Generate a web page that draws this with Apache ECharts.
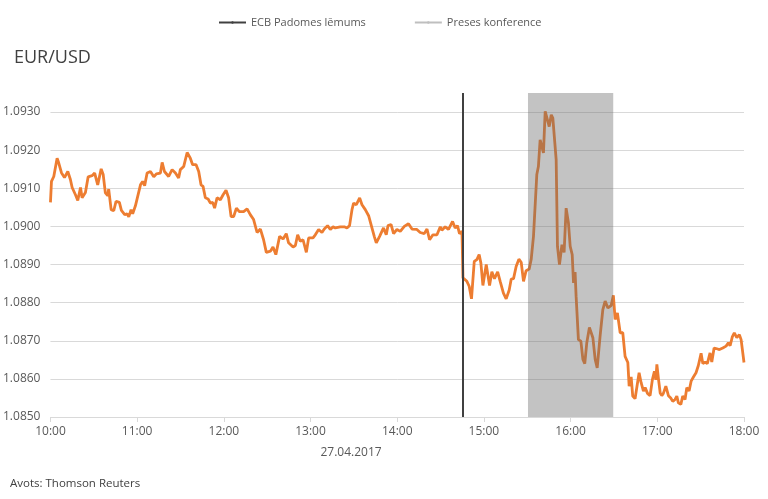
<!DOCTYPE html>
<html>
<head>
<meta charset="utf-8">
<script src="https://cdn.jsdelivr.net/npm/echarts@6/dist/echarts.min.js"></script>
<style>
  html, body { margin: 0; padding: 0; background: #fff; }
  #chart { width: 768px; height: 499px; }
</style>
</head>
<body>
<div id="chart"></div>
<script>
// minutes after 10:00, 27.04.2017
var minutes = [
  0, 0.7, 2.3, 4.6, 5.7, 7.6, 9.7, 12.0, 13.8, 15.0, 17.3, 18.9, 20.8, 21.9, 24.2, 26.1, 28.8, 30.6, 32.7, 35.1,
  36.5, 38.0, 39.6, 40.3, 42.0, 43.8, 45.4, 47.7, 49.1, 51.4, 53.1, 54.2, 55.8, 56.9, 58.8, 60.0, 62.3, 63.8, 65.2, 66.9,
  69.2, 71.5, 73.3, 76.1, 77.3, 78.9, 81.8, 84.2, 86.5, 88.7, 89.9, 92.2, 94.6, 96.8, 98.4, 100.8, 102.6, 104.2, 105.6, 107.2,
  109.1, 110.7, 112.3, 113.6, 115.3, 117.6, 119.5, 121.5, 123.3, 125.0, 126.8, 128.7, 130.7, 133.7, 136.1, 138.3, 140.6, 143.0, 145.3, 147.5,
  149.4, 152.2, 154.0, 156.0, 158.6, 161.0, 163.2, 164.8, 167.9, 169.5, 171.1, 172.9, 174.8, 177.1, 178.7, 181.7, 183.3, 185.6, 187.9, 189.5,
  191.8, 193.7, 195.6, 197.1, 200.6, 203.4, 205.2, 207.0, 208.7, 209.8, 211.7, 214.0, 215.6, 217.9, 220.2, 222.5, 224.1, 225.5, 227.8, 230.5,
  232.4, 233.6, 235.7, 237.5, 239.8, 242.1, 244.9, 247.8, 250.2, 253.6, 255.9, 258.7, 260.6, 262.4, 264.7, 267.5, 269.8, 270.9, 273.2, 275.5,
  278.3, 280.1, 281.7, 283.1, 284.8, 285.5, 288.2, 289.8, 291.4, 293.3, 295.1, 296.7, 297.9, 299.3, 301.6, 303.9, 305.5, 307.3, 309.5, 311.3,
  313.5, 315.4, 317.5, 318.9, 320.5, 322.3, 324.2, 325.8, 327.4, 329.2, 331.3, 332.7, 334.3, 335.5, 336.6, 337.7, 338.9, 340.1, 341.2, 342.4,
  343.6, 345.2, 346.6, 347.7, 350.0, 350.9, 352.3, 354.0, 355.5, 356.9, 358.5, 359.7, 361.1, 362.0, 363.1, 363.8, 365.4, 367.1, 368.5, 369.8,
  371.2, 373.0, 375.4, 377.0, 378.4, 380.4, 382.3, 383.9, 385.8, 388.0, 389.6, 390.8, 392.4, 394.3, 396.1, 397.7, 399.6, 400.5, 401.9, 403.0,
  404.6, 405.8, 407.4, 408.8, 410.4, 411.6, 413.2, 415.0, 416.6, 418.0, 419.0, 419.7, 420.8, 422.0, 423.1, 424.2, 425.9, 427.7, 429.3, 430.7,
  432.3, 433.5, 434.6, 436.3, 437.6, 439.2, 440.4, 442.0, 443.4, 445.0, 446.8, 448.4, 450.3, 451.5, 453.1, 454.6, 456.5, 457.7, 459.3, 461.2,
  463.0, 465.3, 467.6, 469.2, 470.4, 471.9, 473.3, 475.0, 476.8, 478.0, 480
];
var eurusd = [
  1.09063, 1.09118, 1.09131, 1.09179, 1.09167, 1.09141, 1.09128, 1.09144, 1.09123, 1.09102, 1.09083, 1.09068, 1.09102, 1.09075, 1.09089, 1.09130, 1.09133, 1.09140, 1.09109, 1.09151,
  1.09136, 1.09088, 1.09081, 1.09098, 1.09044, 1.09041, 1.09066, 1.09063, 1.09042, 1.09031, 1.09033, 1.09025, 1.09044, 1.09033, 1.09054, 1.09053, 1.09109, 1.09118, 1.09107, 1.09140,
  1.09144, 1.09130, 1.09138, 1.09140, 1.09168, 1.09144, 1.09131, 1.09149, 1.09140, 1.09127, 1.09149, 1.09157, 1.09194, 1.09179, 1.09162, 1.09162, 1.09144, 1.09109, 1.09105, 1.09075,
  1.09072, 1.09061, 1.09063, 1.09048, 1.09075, 1.09070, 1.09083, 1.09095, 1.09075, 1.09026, 1.09026, 1.09048, 1.09039, 1.09039, 1.09046, 1.09031, 1.09018, 1.08984, 1.08993, 1.08965,
  1.08932, 1.08935, 1.08946, 1.08926, 1.08974, 1.08967, 1.08981, 1.08957, 1.08946, 1.08950, 1.08978, 1.08961, 1.08965, 1.08932, 1.08970, 1.08970, 1.08978, 1.08992, 1.08984, 1.08993,
  1.09002, 1.08992, 1.08999, 1.08996, 1.08999, 1.08999, 1.08996, 1.09002, 1.09044, 1.09061, 1.09057, 1.09075, 1.09057, 1.09044, 1.09028, 1.08996, 1.08974, 1.08957, 1.08974, 1.08996,
  1.08978, 1.09002, 1.09005, 1.08981, 1.08992, 1.08987, 1.09000, 1.09007, 1.08993, 1.08992, 1.08984, 1.08981, 1.08993, 1.08965, 1.08978, 1.08978, 1.08999, 1.08990, 1.08999, 1.08992,
  1.09013, 1.08996, 1.09002, 1.08981, 1.08987, 1.08865, 1.08856, 1.08843, 1.08810, 1.08908, 1.08913, 1.08926, 1.08904, 1.08845, 1.08900, 1.08845, 1.08881, 1.08863, 1.08881, 1.08855,
  1.08825, 1.08810, 1.08833, 1.08862, 1.08863, 1.08895, 1.08914, 1.08906, 1.08856, 1.08884, 1.08888, 1.08913, 1.08974, 1.08974, 1.09136, 1.09157, 1.09227, 1.09229, 1.09193, 1.09302,
  1.09306, 1.09262, 1.09293, 1.09284, 1.09175, 1.08948, 1.08900, 1.08952, 1.08932, 1.09048, 1.09009, 1.08948, 1.08926, 1.08852, 1.08880, 1.08817, 1.08703, 1.08699, 1.08651, 1.08640,
  1.08695, 1.08735, 1.08708, 1.08651, 1.08629, 1.08712, 1.08782, 1.08804, 1.08786, 1.08792, 1.08819, 1.08756, 1.08773, 1.08721, 1.08721, 1.08659, 1.08643, 1.08581, 1.08605, 1.08555,
  1.08548, 1.08550, 1.08616, 1.08590, 1.08568, 1.08577, 1.08562, 1.08556, 1.08598, 1.08620, 1.08598, 1.08638, 1.08600, 1.08563, 1.08556, 1.08562, 1.08581, 1.08556, 1.08550, 1.08541,
  1.08546, 1.08555, 1.08537, 1.08533, 1.08555, 1.08546, 1.08577, 1.08568, 1.08594, 1.08605, 1.08616, 1.08635, 1.08667, 1.08640, 1.08644, 1.08640, 1.08668, 1.08644, 1.08681, 1.08679,
  1.08677, 1.08681, 1.08686, 1.08695, 1.08687, 1.08710, 1.08721, 1.08708, 1.08716, 1.08703, 1.08643
];

var ecbDecision = 285.5;          // ~14:45
var pressConference = [330.5, 389.5]; // 15:30 - 16:30

var chart = echarts.init(document.getElementById("chart"));

var option = {
  animation: false,
  textStyle: { fontFamily: "Open Sans, sans-serif" },
  title: {
    text: "EUR/USD",
    left: 9,
    top: 44,
    textStyle: { color: "#404040", fontSize: 18, fontWeight: "normal" },
  },
  legend: {
    left: 218,
    top: 17,
    padding: 0,
    itemWidth: 27,
    itemHeight: 3,
    itemGap: 48,
    textStyle: { color: "#595959", fontSize: 11 },
    data: ["ECB Padomes lēmums", "Preses konference"],
  },
  grid: { left: 50, right: 24, top: 93, bottom: 82 },
  xAxis: {
    type: "value",
    min: 0,
    max: 480,
    interval: 60,
    axisLine: { lineStyle: { color: "#d9d9d9" } },
    axisTick: { show: true, length: 5, lineStyle: { color: "#d9d9d9" } },
    splitLine: { show: false },
    axisLabel: {
      color: "#595959",
      fontSize: 12,
      margin: 9,
      formatter: function (v) {
        var h = 10 + Math.floor(v / 60);
        var m = v % 60;
        return h + ":" + (m < 10 ? "0" + m : m);
      },
    },
  },
  yAxis: {
    type: "value",
    min: 1.085,
    max: 1.0935,
    interval: 0.001,
    axisLine: { show: false },
    axisTick: { show: false },
    splitLine: { showMaxLine: false, lineStyle: { color: "#d9d9d9" } },
    axisLabel: {
      color: "#595959",
      fontSize: 12,
      margin: 10,
      showMaxLabel: false,
      formatter: function (v) {
        return v.toFixed(4);
      },
    },
  },
  graphic: [
    {
      type: "text",
      x: 351,
      y: 453,
      style: { text: "27.04.2017", fill: "#595959", fontSize: 12, fontFamily: "Open Sans", align: "center", verticalAlign: "middle" },
    },
    {
      type: "text",
      x: 10,
      y: 484,
      style: { text: "Avots: Thomson Reuters", fill: "#404040", fontSize: 11.5, fontFamily: "Open Sans", align: "left", verticalAlign: "middle" },
    },
  ],
  series: [
    {
      name: "EUR/USD",
      type: "line",
      z: 2,
      symbol: "none",
      lineStyle: { color: "#ED7D31", width: 2.8 },
      itemStyle: { color: "#ED7D31" },
      data: minutes.map(function (t, i) {
        return [t, eurusd[i]];
      }),
    },
    {
      name: "Preses konference",
      type: "line",
      z: 5,
      symbol: "none",
      lineStyle: { color: "#bfbfbf", width: 3 },
      itemStyle: { color: "#bfbfbf" },
      data: [],
      markArea: {
        silent: true,
        z: 5,
        itemStyle: { color: "rgba(105,105,105,0.4)" },
        data: [[{ xAxis: pressConference[0] }, { xAxis: pressConference[1] }]],
      },
    },
    {
      name: "ECB Padomes lēmums",
      type: "line",
      z: 6,
      symbol: "none",
      lineStyle: { color: "#404040", width: 2 },
      itemStyle: { color: "#404040" },
      data: [],
      markLine: {
        silent: true,
        z: 6,
        symbol: "none",
        label: { show: false },
        lineStyle: { color: "#404040", width: 2, type: "solid" },
        data: [{ xAxis: ecbDecision }],
      },
    },
  ],
};

chart.setOption(option);
</script>
</body>
</html>
